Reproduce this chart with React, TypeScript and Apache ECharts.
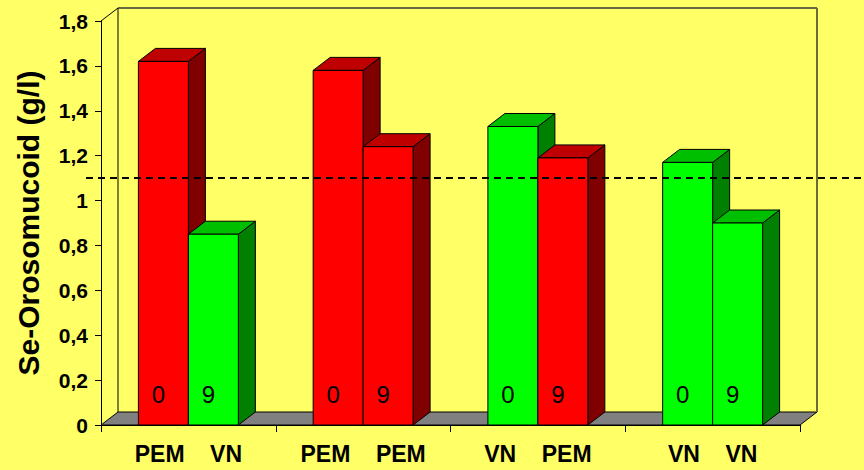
import React, { useEffect, useRef } from "react";
import * as echarts from "echarts";

// ---- data ----
const week0Groups = ["PEM", "PEM", "VN", "VN"];
const week9Groups = ["VN", "PEM", "PEM", "VN"];
const week0Values = [1.62, 1.58, 1.33, 1.17];
const week9Values = [0.85, 1.24, 1.19, 0.9];
const weekLabels = ["0", "9"];
const referenceLevel = 1.1;
const yTicks = { min: 0, max: 1.8, interval: 0.2 };
const yAxisTitle = "Se-Orosomucoid (g/l)";

// ---- style ----
const NBSP4 = "\u00a0\u00a0\u00a0\u00a0";
const categories = week0Groups.map((g, i) => g + NBSP4 + week9Groups[i]);
const FONT = '"Liberation Sans", Arial, sans-serif';
const BG = "#FFFF66";
const DX = 17;
const DY = -13;
const BAR_FRACTION = 0.286;
const COLORS: Record<string, { front: string; top: string; side: string }> = {
  PEM: { front: "#FF0000", top: "#BF0000", side: "#800000" },
  VN: { front: "#00FF00", top: "#00BF00", side: "#008000" },
};

function makeBarRender(pos: number, groups: string[], weekLabel: string) {
  return (params: any, api: any) => {
    const i = api.value(0);
    const v = api.value(1);
    const catW = api.size([1, 0])[0];
    const barW = catW * BAR_FRACTION;
    const base = api.coord([i, 0]);
    const top = api.coord([i, v]);
    const x0 = base[0] - barW + pos * barW;
    const yb = base[1];
    const yt = top[1];
    const c = COLORS[groups[i]];
    return {
      type: "group",
      children: [
        {
          type: "polygon",
          shape: {
            points: [
              [x0 + barW, yt],
              [x0 + barW + DX, yt + DY],
              [x0 + barW + DX, yb + DY],
              [x0 + barW, yb],
            ],
          },
          style: { fill: c.side, stroke: "#000", lineWidth: 1 },
        },
        {
          type: "polygon",
          shape: {
            points: [
              [x0, yt],
              [x0 + DX, yt + DY],
              [x0 + barW + DX, yt + DY],
              [x0 + barW, yt],
            ],
          },
          style: { fill: c.top, stroke: "#000", lineWidth: 1 },
        },
        {
          type: "rect",
          shape: { x: x0, y: yt, width: barW, height: yb - yt },
          style: { fill: c.front, stroke: "#000", lineWidth: 1 },
        },
        {
          type: "text",
          style: {
            text: weekLabel,
            x: x0 + barW / 2 - 5,
            y: yb - 31,
            align: "center",
            verticalAlign: "middle",
            font: `24px ${FONT}`,
            fill: "#000",
          },
        },
      ],
    };
  };
}

function renderFrame(params: any, api: any) {
  const cs = params.coordSys;
  const x0 = cs.x;
  const x1 = cs.x + cs.width;
  const yTop = cs.y;
  const yb = api.coord([0, 0])[1];
  return {
    type: "group",
    children: [
      {
        type: "polygon",
        shape: {
          points: [
            [x0, yb],
            [x0 + DX, yb + DY],
            [x1 + DX, yb + DY],
            [x1, yb],
          ],
        },
        style: { fill: "#808080", stroke: "#000", lineWidth: 1 },
      },
      {
        type: "polyline",
        shape: {
          points: [
            [x0, yTop],
            [x0 + DX, yTop + DY],
            [x0 + DX, yb + DY],
          ],
        },
        style: { fill: "none", stroke: "#000", lineWidth: 1 },
      },
      {
        type: "line",
        shape: { x1: x0 + DX, y1: yTop + DY, x2: x1 + DX, y2: yTop + DY },
        style: { stroke: "#333", lineWidth: 1.5 },
      },
      {
        type: "line",
        shape: { x1: x1 + DX, y1: yTop + DY, x2: x1 + DX, y2: yb + DY },
        style: { stroke: "#6b6b3a", lineWidth: 2 },
      },
    ],
  };
}

function renderRefLine(params: any, api: any) {
  const cs = params.coordSys;
  const y = api.coord([0, api.value(1)])[1];
  return {
    type: "line",
    shape: { x1: cs.x - 15, y1: y, x2: cs.x + cs.width + 70, y2: y },
    style: { stroke: "#000", lineWidth: 2, lineDash: [7, 5] },
  };
}

export default function App() {
  const ref = useRef<HTMLDivElement>(null);
  useEffect(() => {
    document.body.style.margin = "0";
    document.body.style.background = BG;
    const chart = echarts.init(ref.current!, null, { renderer: "svg" });
    chart.setOption({
      animation: false,
      backgroundColor: BG,
      grid: { left: 101, right: 64, top: 21, bottom: 45, containLabel: false },
      xAxis: {
        type: "category",
        data: categories,
        axisLine: { show: true, lineStyle: { color: "#000", width: 1 } },
        axisTick: { show: true, length: 7, alignWithLabel: false, lineStyle: { color: "#000" } },
        axisLabel: {
          interval: 0,
          margin: 17,
          color: "#000",
          fontFamily: FONT,
          fontWeight: "bold",
          fontSize: 23,
        },
        splitLine: { show: false },
      },
      yAxis: {
        type: "value",
        min: yTicks.min,
        max: yTicks.max,
        interval: yTicks.interval,
        name: yAxisTitle,
        nameLocation: "middle",
        nameGap: 58,
        nameTextStyle: {
          color: "#000",
          fontFamily: FONT,
          fontWeight: "bold",
          fontSize: 30,
        },
        axisLine: { show: true, lineStyle: { color: "#000", width: 1 } },
        axisTick: { show: true, length: 6, lineStyle: { color: "#000" } },
        axisLabel: {
          margin: 13,
          color: "#000",
          fontFamily: FONT,
          fontWeight: "bold",
          fontSize: 21,
          formatter: (v: number) => String(Number(v.toFixed(1))).replace(".", ","),
        },
        splitLine: { show: false },
      },
      series: [
        {
          type: "custom",
          name: "frame",
          z: 1,
          silent: true,
          renderItem: renderFrame,
          data: [[0, 0]],
        },
        {
          type: "custom",
          name: weekLabels[0],
          z: 2,
          renderItem: makeBarRender(0, week0Groups, weekLabels[0]),
          data: week0Values.map((v, i) => [i, v]),
        },
        {
          type: "custom",
          name: weekLabels[1],
          z: 3,
          renderItem: makeBarRender(1, week9Groups, weekLabels[1]),
          data: week9Values.map((v, i) => [i, v]),
        },
        {
          type: "custom",
          name: "ref",
          z: 4,
          silent: true,
          renderItem: renderRefLine,
          data: [[0, referenceLevel]],
        },
      ],
    });
    return () => chart.dispose();
  }, []);
  return <div ref={ref} style={{ width: 864, height: 470 }} />;
}
